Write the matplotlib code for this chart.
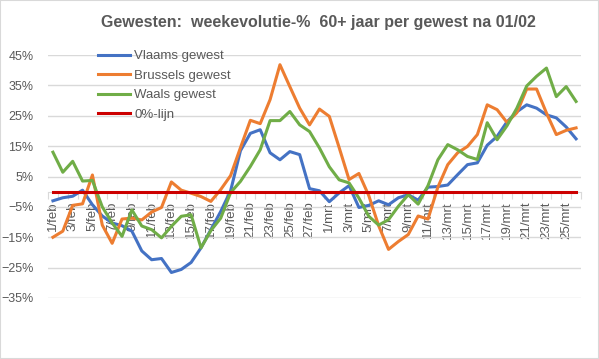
import matplotlib
matplotlib.use("Agg")
import matplotlib.pyplot as plt
from matplotlib.ticker import PercentFormatter
from matplotlib.patches import Rectangle

plt.rcParams["font.family"] = ["Liberation Sans", "DejaVu Sans"]

# dagen 1/feb .. 26/mrt
dagen = ["1/feb", "2/feb", "3/feb", "4/feb", "5/feb", "6/feb", "7/feb", "8/feb", "9/feb", "10/feb",
         "11/feb", "12/feb", "13/feb", "14/feb", "15/feb", "16/feb", "17/feb", "18/feb", "19/feb", "20/feb",
         "21/feb", "22/feb", "23/feb", "24/feb", "25/feb", "26/feb", "27/feb", "28/feb",
         "1/mrt", "2/mrt", "3/mrt", "4/mrt", "5/mrt", "6/mrt", "7/mrt", "8/mrt", "9/mrt", "10/mrt",
         "11/mrt", "12/mrt", "13/mrt", "14/mrt", "15/mrt", "16/mrt", "17/mrt", "18/mrt", "19/mrt", "20/mrt",
         "21/mrt", "22/mrt", "23/mrt", "24/mrt", "25/mrt", "26/mrt"]

vlaams = [-3, -2, -1.5, 0.5, -4.3, -8, -10.3, -11.2, -13, -19.5,
          -22.4, -22, -26.6, -25.6, -23.3, -18.5, -12.5, -6.5, 0.3, 13.5,
          19.2, 20.4, 12.8, 10.5, 13.2, 12.2, 1, 0.3,
          -3.3, -0.4, 2, -5.2, -4.5, -3, -4.3, -2, -1, -2.8,
          1.5, 1.7, 2.2, 5.6, 8.9, 9.5, 15.3, 18.2, 23, 26.3,
          28.6, 27.5, 25.3, 24.3, 21.3, 17.4]

brussels = [-15, -13, -4.5, -4, 5.5, -11, -17, -9, -8.7, -9.3,
            -6.7, -5.2, 3.2, 0.5, -0.5, -1.6, -3.2, 0.7, 5.3, 14.5,
            23.5, 22.4, 30.3, 41.8, 34.6, 27.5, 22, 27.2,
            24.8, 14.5, 4, 6, -1.3, -11.2, -19, -16.4, -14.1, -8, -9,
            1.5, 8.9, 12.8, 14.9, 18.8, 28.6, 27, 22.8, 26, 33.8,
            33.8, 25.9, 18.8, 20.2, 21]

waals = [13, 6.4, 10, 3.5, 3.7, -5, -10.3, -14.7, -6, -11.3,
         -12.5, -15.2, -11.4, -8.1, -7.6, -18.5, -12.8, -8.7, -0.3, 3.4,
         8.3, 13.8, 23.4, 23.4, 26.4, 22, 19.8, 14.4,
         8.2, 3.9, 2.9, -2.1, -8.1, -11, -9.2, -4.8, -1, -4.1,
         2, 10.5, 15.5, 13.8, 11.6, 10.6, 22.7, 17.1, 21.7, 27.5, 34.8,
         38, 40.7, 31.3, 34.6, 29.7]

nullijn = [0] * len(dagen)

tekst = "#595959"
grijs = "#D9D9D9"

fig = plt.figure(figsize=(5.99, 3.59), dpi=100)
ax = fig.add_axes([48 / 599, 61 / 359, 533 / 599, 243 / 359])

x = range(len(dagen))
ax.plot(x, [v / 100 for v in vlaams], color="#4472C4", lw=2.2, label="Vlaams gewest")
ax.plot(x, [v / 100 for v in brussels], color="#ED7D31", lw=2.2, label="Brussels gewest")
ax.plot(x, [v / 100 for v in waals], color="#70AD47", lw=2.2, label="Waals gewest")
ax.plot(x, nullijn, color="#CC0000", lw=2.2, label="0%-lijn", zorder=4)

ax.set_xlim(-0.5, len(dagen) - 0.5)
ax.set_ylim(-0.35, 0.45)
ax.set_yticks([-0.35, -0.25, -0.15, -0.05, 0.05, 0.15, 0.25, 0.35, 0.45])
ax.yaxis.set_major_formatter(PercentFormatter(1, decimals=0))
ax.grid(axis="y", color=grijs, lw=1)
ax.set_axisbelow(True)
ax.tick_params(axis="y", length=0, pad=10.5, labelsize=9, labelcolor=tekst)

for s in ["top", "right", "left"]:
    ax.spines[s].set_visible(False)
ax.spines["bottom"].set_position(("data", 0))
ax.spines["bottom"].set_color(grijs)
ax.spines["bottom"].set_zorder(1)

# tickmarks op de categoriegrenzen, labels om de 2 dagen
ax.set_xticks([i - 0.5 for i in range(len(dagen) + 1)])
ax.set_xticklabels([])
ax.tick_params(axis="x", which="major", length=5, color=grijs, direction="out")
ax.set_xticks(list(range(0, len(dagen), 2)), minor=True)
ax.set_xticklabels(dagen[::2], minor=True, rotation=90)
ax.tick_params(axis="x", which="minor", length=0, pad=7, labelsize=9.5, labelcolor=tekst)

ax.legend(loc="upper left", bbox_to_anchor=(98 / 599, 1 - 50 / 359), bbox_transform=fig.transFigure,
          frameon=False, fontsize=9.5, labelcolor=tekst, handlelength=2.4, handletextpad=0.35,
          labelspacing=0.55, borderaxespad=0, borderpad=0)

fig.text(318 / 599, 1 - 23 / 359, "Gewesten:  weekevolutie-%  60+ jaar per gewest na 01/02",
         ha="center", va="center", fontsize=11.5, fontweight="bold", color=tekst)

fig.patches.append(Rectangle((0, 0), 1, 1, transform=fig.transFigure, fill=False,
                             edgecolor=grijs, lw=1.5))

fig.savefig("out.png", dpi=100)
